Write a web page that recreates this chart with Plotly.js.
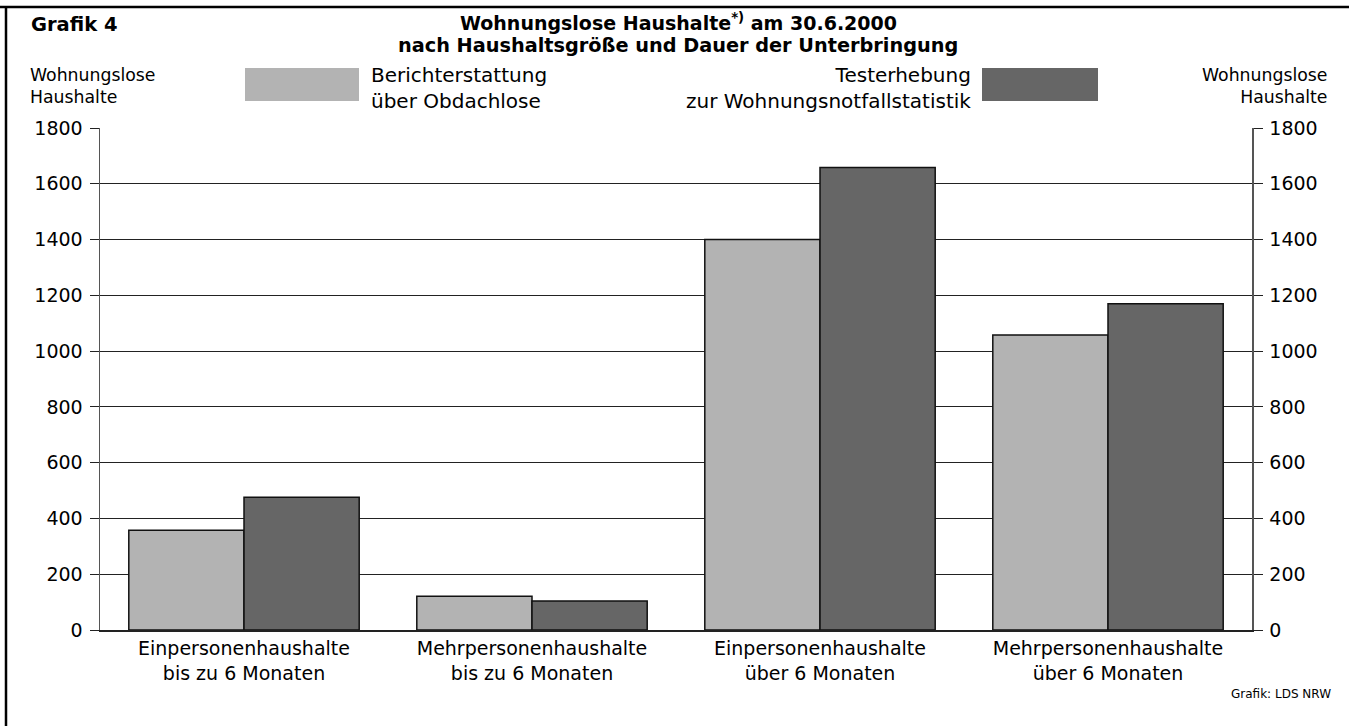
<!DOCTYPE html>
<html>
<head>
<meta charset="utf-8">
<script src="https://cdn.plot.ly/plotly-3.0.1.min.js"></script>
<style>html,body{margin:0;padding:0;background:#fff;}#chart{width:1349px;height:726px;}</style>
</head>
<body>
<div id="chart"></div>
<script>
const categories = [
  "Einpersonenhaushalte<br>bis zu 6 Monaten",
  "Mehrpersonenhaushalte<br>bis zu 6 Monaten",
  "Einpersonenhaushalte<br>über 6 Monaten",
  "Mehrpersonenhaushalte<br>über 6 Monaten"
];
const berichterstattung = [358, 121, 1400, 1058];
const testerhebung = [476, 104, 1658, 1170];
const seriesNames = ["Berichterstattung<br>über Obdachlose", "Testerhebung<br>zur Wohnungsnotfallstatistik"];
const yTicks = [0, 200, 400, 600, 800, 1000, 1200, 1400, 1600, 1800];
const titleLines = ["<b>Wohnungslose Haushalte<sup>*)</sup> am 30.6.2000</b>", "<b>nach Haushaltsgröße und Dauer der Unterbringung</b>"];

const FONT = "DejaVu Sans, Verdana, sans-serif";
const LIGHT = "#b3b3b3", DARK = "#666666";

const traces = [
  {type: "bar", x: categories, y: berichterstattung, name: seriesNames[0],
   marker: {color: LIGHT, line: {color: "#111", width: 1.5}}, showlegend: false, hoverinfo: "y"},
  {type: "bar", x: categories, y: testerhebung, name: seriesNames[1],
   marker: {color: DARK, line: {color: "#111", width: 1.5}}, showlegend: false, hoverinfo: "y"},
  {type: "scatter", mode: "markers", x: categories, y: testerhebung, yaxis: "y2",
   marker: {opacity: 0}, showlegend: false, hoverinfo: "skip"}
];

const yCommon = {
  range: [0, 1800], tickvals: yTicks, ticktext: yTicks.map(String),
  ticks: "outside", ticklen: 9, tickwidth: 1, tickcolor: "#222", ticklabelstandoff: 3,
  showline: true, linecolor: "#555", linewidth: 1.5,
  tickfont: {family: FONT, size: 19, color: "#000"}, zeroline: false, fixedrange: true
};

// paper coordinate helpers (plot area: x 100..1252, y 128..630)
const W = 1349, H = 726, L = 100, R = 1252, T = 128, B = 630;
const px = v => (v - L) / (R - L);
const py = v => (B - v) / (B - T);

const layout = {
  width: W, height: H,
  margin: {l: L, r: W - R, t: T, b: H - B},
  paper_bgcolor: "#fff", plot_bgcolor: "#fff",
  barmode: "group", bargap: 0.2, bargroupgap: 0,
  font: {family: FONT, color: "#000"},
  xaxis: {
    showline: true, linecolor: "#222", linewidth: 2, ticks: "",
    tickfont: {family: FONT, size: 19, color: "#000"}, fixedrange: true
  },
  yaxis: Object.assign({}, yCommon, {showgrid: true, gridcolor: "#222", gridwidth: 1}),
  yaxis2: Object.assign({}, yCommon, {overlaying: "y", side: "right", showgrid: false}),
  shapes: [
    {type: "line", xref: "paper", yref: "paper", x0: px(0), x1: px(W), y0: py(7), y1: py(7), line: {color: "#000", width: 2.5}},
    {type: "line", xref: "paper", yref: "paper", x0: px(6), x1: px(6), y0: py(7), y1: py(H), line: {color: "#000", width: 2.5}},
    {type: "rect", xref: "paper", yref: "paper", x0: px(245), x1: px(359), y0: py(68), y1: py(101), fillcolor: LIGHT, line: {width: 0}},
    {type: "rect", xref: "paper", yref: "paper", x0: px(982), x1: px(1098), y0: py(68), y1: py(101), fillcolor: DARK, line: {width: 0}}
  ],
  annotations: [
    {text: titleLines[0], xref: "paper", yref: "paper", x: px(678), y: py(22), xanchor: "center", yanchor: "middle", showarrow: false, font: {family: FONT, size: 19}},
    {text: titleLines[1], xref: "paper", yref: "paper", x: px(678), y: py(46), xanchor: "center", yanchor: "middle", showarrow: false, font: {family: FONT, size: 19.3}},
    {text: "<b>Grafik 4</b>", xref: "paper", yref: "paper", x: px(29), y: py(25), xanchor: "left", yanchor: "middle", showarrow: false, font: {family: FONT, size: 19.5}},
    {text: "Wohnungslose<br>Haushalte", xref: "paper", yref: "paper", x: px(28), y: py(86), xanchor: "left", yanchor: "middle", align: "left", showarrow: false, font: {family: FONT, size: 17.3}},
    {text: "Wohnungslose<br>Haushalte", xref: "paper", yref: "paper", x: px(1329), y: py(86), xanchor: "right", yanchor: "middle", align: "right", showarrow: false, font: {family: FONT, size: 17.3}},
    {text: seriesNames[0], xref: "paper", yref: "paper", x: px(369), y: py(88), xanchor: "left", yanchor: "middle", align: "left", showarrow: false, font: {family: FONT, size: 20}},
    {text: seriesNames[1], xref: "paper", yref: "paper", x: px(973), y: py(88), xanchor: "right", yanchor: "middle", align: "right", showarrow: false, font: {family: FONT, size: 20}},
    {text: "Grafik: LDS NRW", xref: "paper", yref: "paper", x: px(1333), y: py(694), xanchor: "right", yanchor: "middle", showarrow: false, font: {family: FONT, size: 12}}
  ]
};

Plotly.newPlot("chart", traces, layout, {displayModeBar: false, staticPlot: true});
</script>
</body>
</html>
